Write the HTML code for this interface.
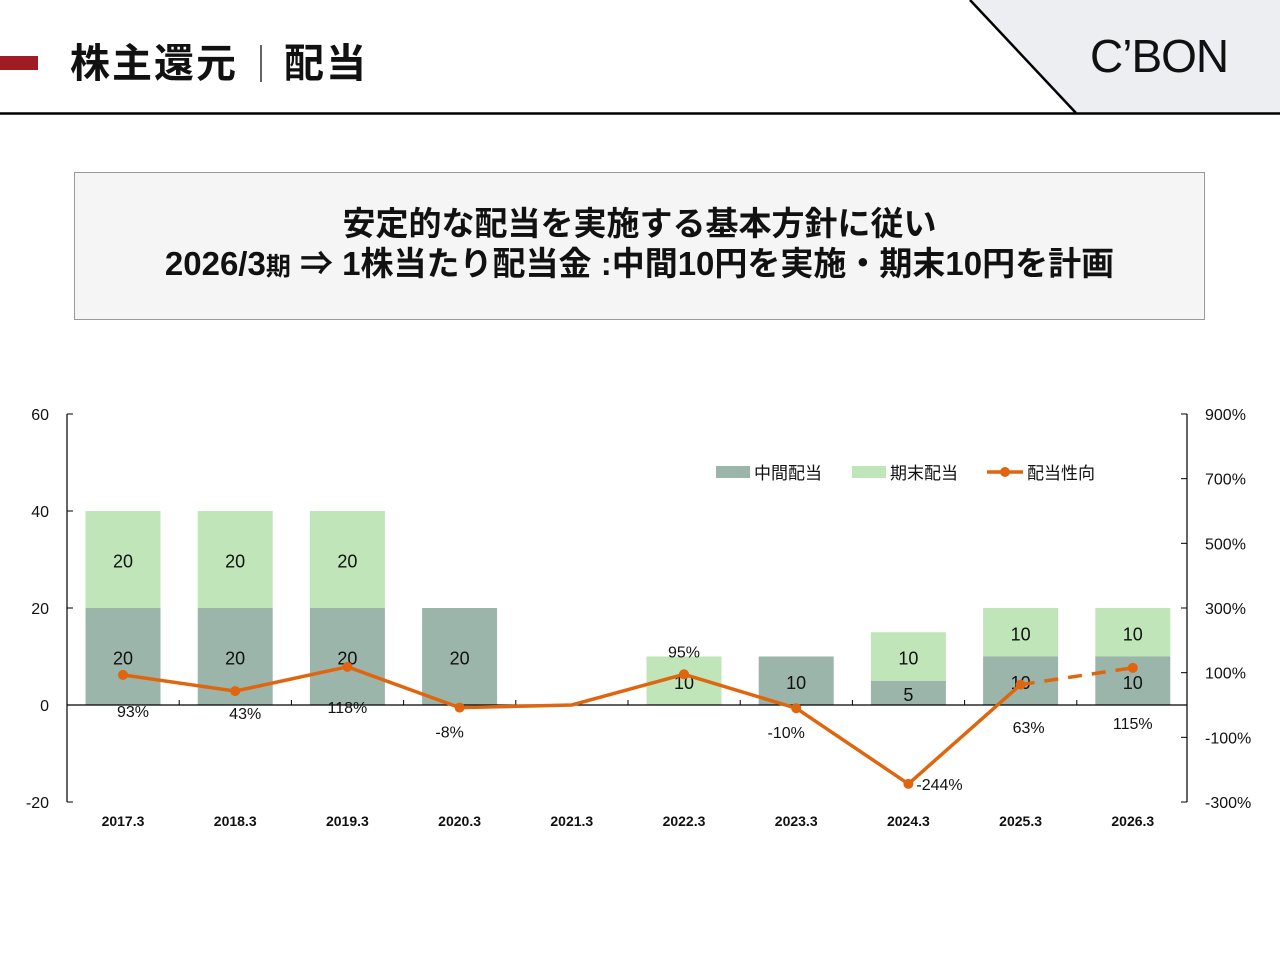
<!DOCTYPE html>
<html><head><meta charset="utf-8">
<style>
body{margin:0;width:1280px;height:960px;background:#fff;position:relative;overflow:hidden;font-family:"Liberation Sans","Noto Sans CJK JP",sans-serif;}
.abs{position:absolute}
</style></head><body>
<div class="abs" style="left:0;top:0;width:1280px;height:115px;">
  <svg width="1280" height="115" class="abs" style="left:0;top:0">
    <polygon points="970,0 1280,0 1280,113 1076,113" fill="#edeef2"/>
    <line x1="970" y1="0" x2="1076" y2="113" stroke="#000" stroke-width="2.5"/>
    <line x1="0" y1="113.5" x2="1280" y2="113.5" stroke="#000" stroke-width="2.5"/>
    <rect x="0" y="56" width="38" height="14" fill="#a01c25"/>
    <line x1="261" y1="45" x2="261" y2="82" stroke="#333" stroke-width="1.5"/>
  </svg>
  <div class="abs" style="left:70px;top:36px;font-size:40px;font-weight:bold;color:#111;line-height:56px;letter-spacing:2px;">株主還元</div>
  <div class="abs" style="left:284px;top:36px;font-size:40px;font-weight:bold;color:#111;line-height:56px;letter-spacing:2px;">配当</div>
  <div class="abs" style="left:1090px;top:28px;font-size:46px;color:#111;line-height:56px;letter-spacing:-1px;">C’BON</div>
</div>
<div class="abs" style="left:74px;top:172px;width:1129px;height:146px;background:#f5f5f5;border:1px solid #999;text-align:center;font-weight:bold;font-size:33px;color:#111;">
  <div style="margin-top:31px;line-height:40px;">安定的な配当を実施する基本方針に従い</div>
  <div style="line-height:40px;">2026/3<span style="font-size:25px">期</span> ⇒ 1株当たり配当金 :中間10円を実施・期末10円を計画</div>
</div>
<svg id="chart" class="abs" style="left:0;top:340px" width="1280" height="520"></svg>
<script>
const categories=["2017.3","2018.3","2019.3","2020.3","2021.3","2022.3","2023.3","2024.3","2025.3","2026.3"];
const interim=[20,20,20,20,0,0,10,5,10,10];
const yearEnd=[20,20,20,0,0,10,0,10,10,10];
const payout=[93,43,118,-8,0,95,-10,-244,63,115];
const leftTicks=[60,40,20,0,-20];
const rightTicks=[900,700,500,300,100,-100,-300];
const OY=340;
const svg=document.getElementById('chart');
const NS='http://www.w3.org/2000/svg';
function yL(v){return 705-OY-(v)*97/20;}
function yR(v){return 705-OY-(v)*388/1200;}
function xC(i){return 123+i*112.2;}
function mk(t,a,txt){const e=document.createElementNS(NS,t);for(const k in a)e.setAttribute(k,a[k]);if(txt!==undefined)e.textContent=txt;svg.appendChild(e);return e;}
let e=mk('line',{x1:67,y1:yL(60),x2:67,y2:yL(-20),stroke:'#000','stroke-width':1.2});

e=mk('line',{x1:1187,y1:yL(60),x2:1187,y2:yL(-20),stroke:'#000','stroke-width':1.2});

leftTicks.forEach(v=>{mk('line',{x1:67,y1:yL(v),x2:73,y2:yL(v),stroke:'#000'});
 e=mk('text',{x:49,y:yL(v)+6,'text-anchor':'end','font-size':16,fill:'#111'},v);
 });
rightTicks.forEach(v=>{mk('line',{x1:1181,y1:yR(v),x2:1187,y2:yR(v),stroke:'#000'});
 e=mk('text',{x:1205,y:yR(v)+6,'font-size':16,fill:'#111'},v+'%');
 });
categories.forEach((c,i)=>{
 const x=xC(i)-37.5;
 if(interim[i]>0){e=mk('rect',{x:x,y:yL(interim[i]),width:75,height:yL(0)-yL(interim[i]),fill:'#9bb5aa'});
  }
 if(yearEnd[i]>0){e=mk('rect',{x:x,y:yL(interim[i]+yearEnd[i]),width:75,height:yL(interim[i])-yL(interim[i]+yearEnd[i]),fill:'#bfe5b9'});
  }
 e=mk('text',{x:xC(i),y:yL(-20)+24,'text-anchor':'middle','font-size':14,'font-weight':'bold',fill:'#111'},c);
 
});
mk('line',{x1:67,y1:yL(0),x2:1187,y2:yL(0),stroke:'#000','stroke-width':1.2});
categories.forEach((c,i)=>{if(i>0)mk('line',{x1:xC(i)-56,y1:yL(0),x2:xC(i)-56,y2:yL(0)-5,stroke:'#000'});});
categories.forEach((c,i)=>{
 if(interim[i]>0){e=mk('text',{x:xC(i),y:(yL(0)+yL(interim[i]))/2+8,'text-anchor':'middle','font-size':18,fill:'#111'},interim[i]);
  }
 if(yearEnd[i]>0){e=mk('text',{x:xC(i),y:(yL(interim[i])+yL(interim[i]+yearEnd[i]))/2+8,'text-anchor':'middle','font-size':18,fill:'#111'},yearEnd[i]);
  }
});
const solid=payout.slice(0,9).map((v,i)=>xC(i)+','+yR(v)).join(' ');
e=mk('polyline',{points:solid,fill:'none',stroke:'#e0650f','stroke-width':3.5});

e=mk('line',{x1:xC(8),y1:yR(payout[8]),x2:xC(9),y2:yR(payout[9]),stroke:'#e0650f','stroke-width':3.5,'stroke-dasharray':'14,10'});

payout.forEach((v,i)=>{
 if(i===4)return;
 e=mk('circle',{cx:xC(i),cy:yR(v),r:5,fill:'#e0650f'});
 
 let lx=xC(i)+10,ly=yR(v)+42,anc='middle';
 if(i===5){lx=xC(i);ly=yR(v)-17;}
 if(i===7){lx=xC(i)+8;ly=yR(v)+6;anc='start';}
 if(i===3||i===6){ly=yR(v)+30;}
 if(i===8||i===9){ly=705-OY+28;lx=xC(i)+8;}
 if(i===9){ly=705-OY+24;lx=xC(i);}
 if(i===0)ly=705-OY+12;
 if(i===1)ly=705-OY+14;
 if(i===2){ly=705-OY+8;lx=xC(i);}
 if(i===3||i===6)lx=xC(i)-10;
 e=mk('text',{x:lx,y:ly,'text-anchor':anc,'font-size':16,fill:'#111'},v+'%');
 
});
const lg=[['#9bb5aa','中間配当',716],['#bfe5b9','期末配当',852]];
lg.forEach(l=>{mk('rect',{x:l[2],y:126,width:34,height:12,fill:l[0]});
 e=mk('text',{x:l[2]+38,y:139,'font-size':17,fill:'#111'},l[1]);
 });
mk('line',{x1:987,y1:132,x2:1023,y2:132,stroke:'#e0650f','stroke-width':3.5});
mk('circle',{cx:1005,cy:132,r:5,fill:'#e0650f'});
e=mk('text',{x:1027,y:139,'font-size':17,fill:'#111'},'配当性向');

</script>
</body></html>
